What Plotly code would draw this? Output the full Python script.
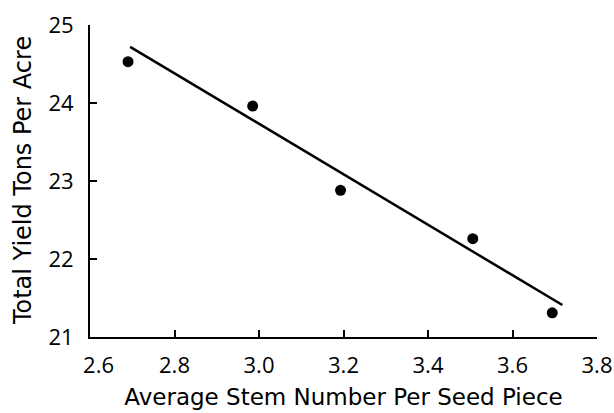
import plotly.graph_objects as go

stem_number = [2.69, 2.985, 3.193, 3.506, 3.694]
total_yield = [24.53, 23.96, 22.88, 22.26, 21.31]
fit_x = [2.695, 3.718]
fit_y = [24.72, 21.41]

x_ticks = [2.6, 2.8, 3.0, 3.2, 3.4, 3.6, 3.8]
x_tick_text = ["\u00a0\u00a0\u00a02.6", "2.8", "3.0", "3.2", "3.4", "3.6", "3.8"]
y_ticks = [21, 22, 23, 24, 25]

FONT = "Open Sans"
TITLE_FONT = "DejaVu Sans"

fig = go.Figure()
fig.add_trace(go.Scatter(x=fit_x, y=fit_y, mode="lines",
                         line=dict(color="black", width=2.5), showlegend=False))
fig.add_trace(go.Scatter(x=stem_number, y=total_yield, mode="markers",
                         marker=dict(color="black", size=11), showlegend=False))

fig.update_layout(
    width=614, height=413,
    margin=dict(l=90, r=17, t=25, b=76),
    paper_bgcolor="white", plot_bgcolor="white",
    font=dict(family=FONT, color="black", size=22),
    xaxis=dict(range=[2.6, 3.8], tickvals=x_ticks, ticktext=x_tick_text,
               showline=True, linecolor="black", linewidth=2, ticks="inside",
               ticklen=7, tickwidth=2, tickcolor="black", showgrid=False, zeroline=False,
               ticklabelstandoff=8, automargin=False,
               title=dict(text="Average Stem Number Per Seed Piece",
                          font=dict(family=TITLE_FONT, size=23), standoff=10),
               tickfont=dict(size=22)),
    yaxis=dict(range=[21, 25], tickvals=y_ticks, ticktext=[str(v) for v in y_ticks],
               showline=True, linecolor="black", linewidth=2, ticks="inside",
               ticklen=7, tickwidth=2, tickcolor="black", showgrid=False, zeroline=False,
               ticklabelstandoff=10, automargin=False,
               tickfont=dict(size=22)),
    annotations=[dict(text="Total Yield Tons Per Acre", textangle=-90,
                      xref="paper", yref="paper", x=-0.132, y=0.5,
                      xanchor="center", yanchor="middle", showarrow=False,
                      font=dict(family=TITLE_FONT, size=24))],
)

fig.write_html("out.html")
